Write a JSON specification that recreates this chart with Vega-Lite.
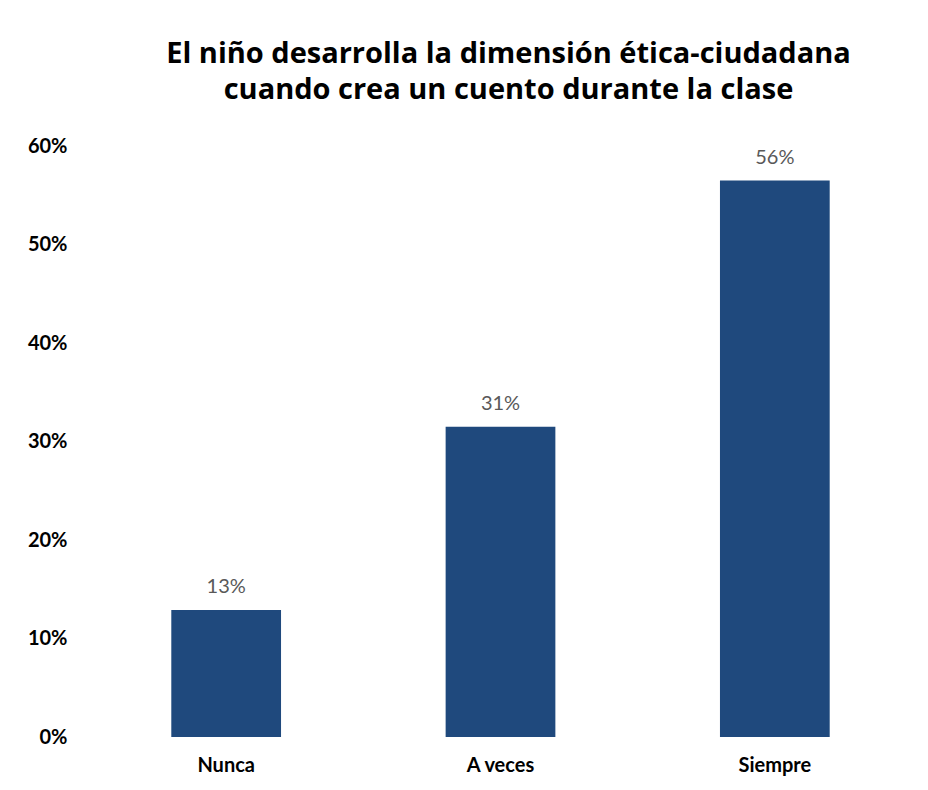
{
  "$schema": "https://vega.github.io/schema/vega-lite/v6.json",
  "autosize": "none",
  "width": 823,
  "height": 591,
  "padding": {"left": 89, "top": 146, "right": 16, "bottom": 53},
  "background": "white",
  "title": {
    "text": ["El niño desarrolla la dimensión ética-ciudadana", "cuando crea un cuento durante la clase"],
    "font": "Open Sans",
    "fontSize": 29,
    "fontWeight": "bold",
    "color": "#000000",
    "lineHeight": 36,
    "anchor": "middle",
    "dx": 8,
    "offset": 31
  },
  "data": {
    "values": [
      {"categoria": "Nunca", "porcentaje": 0.129},
      {"categoria": "A veces", "porcentaje": 0.3149},
      {"categoria": "Siempre", "porcentaje": 0.5649}
    ]
  },
  "encoding": {
    "x": {
      "field": "categoria",
      "type": "nominal",
      "sort": ["Nunca", "A veces", "Siempre"],
      "scale": {"paddingInner": 0.6, "paddingOuter": 0.3},
      "axis": {
        "title": null,
        "domain": false,
        "ticks": false,
        "labelAngle": 0,
        "labelFont": "Lato",
        "labelFontSize": 20,
        "labelFontWeight": "bold",
        "labelColor": "#000000",
        "labelPadding": 18
      }
    },
    "y": {
      "field": "porcentaje",
      "type": "quantitative",
      "scale": {"domain": [0, 0.6]},
      "axis": {
        "title": null,
        "format": ".0%",
        "values": [0, 0.1, 0.2, 0.3, 0.4, 0.5, 0.6],
        "domain": false,
        "ticks": false,
        "grid": false,
        "labelFont": "Lato",
        "labelFontSize": 20,
        "labelFontWeight": "bold",
        "labelColor": "#000000",
        "labelPadding": 22
      }
    }
  },
  "layer": [
    {"mark": {"type": "bar", "color": "#1F497D"}},
    {
      "mark": {"type": "text", "baseline": "bottom", "dy": -13, "font": "Lato", "fontSize": 20, "color": "#595959"},
      "encoding": {"text": {"field": "porcentaje", "type": "quantitative", "format": ".0%"}}
    }
  ],
  "config": {"view": {"stroke": null}}
}
